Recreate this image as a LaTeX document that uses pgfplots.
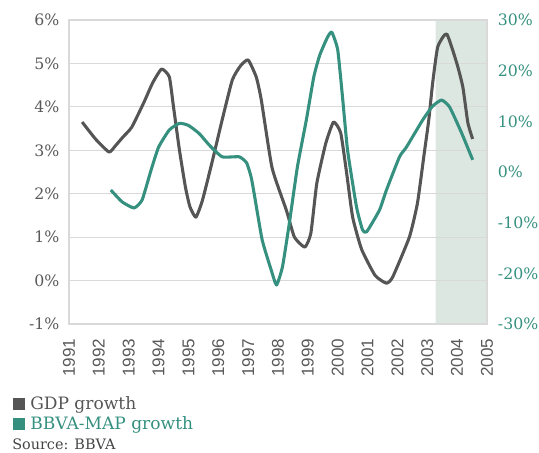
\documentclass[border=0pt]{standalone}
\usepackage{fontspec}
\setmainfont{DejaVu Serif}
\newfontfamily\yearfont{Liberation Sans}
\usepackage{pgfplots}
\usepackage{pgfplotstable}
\pgfplotsset{compat=1.18}
\pgfplotsset{set layers}

\definecolor{gdp}{HTML}{555555}
\definecolor{map}{HTML}{35907F}
\definecolor{band}{HTML}{DCE7E2}
\definecolor{gridc}{HTML}{D9D9D9}
\definecolor{txt}{HTML}{595959}

\pgfplotstableread{
year   val
1991.44 3.65
1991.90 3.25
1992.34 2.96
1992.55 3.10
1992.80 3.30
1993.10 3.53
1993.50 4.09
1993.80 4.55
1994.10 4.87
1994.36 4.69
1994.50 4.00
1994.70 3.00
1994.90 2.15
1995.05 1.70
1995.25 1.46
1995.47 1.85
1995.80 2.75
1996.13 3.70
1996.47 4.62
1996.75 4.95
1997.00 5.08
1997.27 4.69
1997.44 4.16
1997.80 2.60
1998.28 1.62
1998.55 1.00
1998.90 0.77
1999.10 1.09
1999.30 2.24
1999.60 3.16
1999.86 3.65
2000.10 3.40
2000.30 2.47
2000.50 1.46
2000.80 0.72
2001.25 0.12
2001.63 -0.06
2001.84 0.08
2002.40 1.00
2002.67 1.78
2002.90 2.94
2003.05 3.70
2003.18 4.55
2003.35 5.38
2003.65 5.68
2003.99 5.00
2004.19 4.46
2004.36 3.63
2004.52 3.26
}\gdptable

\pgfplotstableread{
year   val
1992.40 -3.55
1992.78 -5.90
1993.18 -7.10
1993.45 -5.50
1993.75 0.40
1994.00 4.90
1994.36 8.30
1994.70 9.60
1995.00 9.20
1995.36 7.60
1995.70 5.30
1996.13 3.00
1996.70 3.00
1996.95 1.80
1997.10 -1.00
1997.20 -4.20
1997.47 -13.40
1997.77 -19.30
1997.95 -22.30
1998.15 -18.70
1998.38 -10.10
1998.65 1.00
1998.95 10.30
1999.20 18.80
1999.40 23.10
1999.65 26.50
1999.80 27.60
2000.00 24.10
2000.17 14.20
2000.33 4.30
2000.63 -6.90
2000.83 -11.40
2000.97 -11.80
2001.40 -7.50
2001.63 -3.60
2002.07 3.00
2002.30 4.90
2002.85 10.30
2003.18 13.00
2003.48 14.20
2003.75 12.80
2004.15 7.70
2004.52 2.40
}\maptable

\begin{document}
\begin{tikzpicture}
\begin{axis}[
    at={(0,0)}, anchor=south west,
    scale only axis,
    width=313.5pt, height=228pt,
    xmin=1991, xmax=2005,
    ymin=-1, ymax=6,
    xtick={1991,...,2005},
    xticklabel style={font=\yearfont\fontsize{12.8}{13}\selectfont, text=txt, yshift=-11pt, rotate=90, anchor=east, inner sep=0pt},
    xticklabels={1991,1992,1993,1994,1995,1996,1997,1998,1999,2000,2001,2002,2003,2004,2005},
    ytick={-1,0,1,2,3,4,5,6},
    yticklabels={-1\%,0\%,1\%,2\%,3\%,4\%,5\%,6\%},
    yticklabel style={font=\fontsize{11.8}{13}\selectfont, text=txt, inner sep=0pt, xshift=-7pt},
    major tick length=0pt,
    xtick pos=bottom, ytick pos=left,
    ymajorgrids,
    grid style={gridc, line width=0.9pt},
    axis line style={gridc, line width=0.9pt},
]
\addplot[draw=none, fill=band, on layer=axis background] coordinates {
    (2003.28,-1) (2005,-1) (2005,6) (2003.28,6) (2003.28,-1)};
\addplot[gdp, line width=2.3pt, line join=round, smooth, tension=0.3] table[x=year, y=val] {\gdptable};
\end{axis}
\begin{axis}[
    at={(0,0)}, anchor=south west,
    scale only axis,
    width=313.5pt, height=228pt,
    xmin=1991, xmax=2005,
    ymin=-30, ymax=30,
    axis x line=none,
    axis y line*=right,
    axis line style={gridc, line width=0.9pt},
    ytick={-30,-20,-10,0,10,20,30},
    yticklabels={-30\%,-20\%,-10\%,0\%,10\%,20\%,30\%},
    yticklabel style={font=\fontsize{11.8}{13}\selectfont, text=map, inner sep=0pt, anchor=west, xshift=8pt},
    major tick length=0pt,
]
\addplot[map, line width=2.3pt, line join=round, smooth, tension=0.3] table[x=year, y=val] {\maptable};
\end{axis}
\fill[gdp] (-42pt,-64.5pt) rectangle (-33pt,-55.5pt);
\node[anchor=base west, inner sep=0pt, text=gdp, font=\fontsize{12.8}{14}\selectfont] at (-29.25pt,-64.5pt) {GDP growth};
\fill[map] (-42pt,-79.5pt) rectangle (-33pt,-70.5pt);
\node[anchor=base west, inner sep=0pt, text=map, font=\fontsize{12.8}{14}\selectfont] at (-29.25pt,-79.5pt) {BBVA-MAP growth};
\node[anchor=base west, inner sep=0pt, text=gdp!80!black, font=\fontsize{10.8}{12}\selectfont] at (-42.75pt,-94pt) {Source: BBVA};
\pgfresetboundingbox
\path[use as bounding box] (-51.75pt,-96.75pt) rectangle (352.5pt,243pt);
\end{tikzpicture}
\end{document}
